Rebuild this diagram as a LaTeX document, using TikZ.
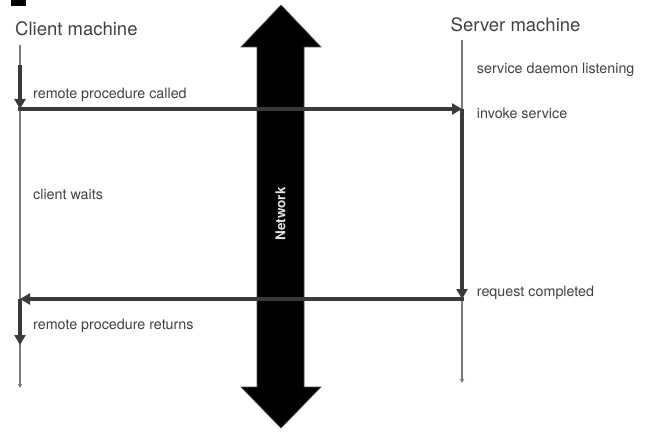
\documentclass[tikz,border=0pt]{standalone}
\usepackage{fontspec}
\setmainfont{TeX Gyre Heros}
\usetikzlibrary{arrows.meta}
\definecolor{txt}{HTML}{404040}
\definecolor{thickc}{HTML}{3A3A3A}
\definecolor{thinc}{HTML}{7A7A7A}
\begin{document}
\begin{tikzpicture}[x=1pt,y=-1pt,
  title/.style={anchor=base west,inner sep=0pt,text=txt,font=\fontsize{18.5}{20}\selectfont},
  lbl/.style={anchor=base west,inner sep=0pt,text=txt,font=\fontsize{14.3}{16}\selectfont},
  thinline/.style={draw=thinc,line width=1.3pt,-{Triangle[length=4pt,width=4pt]}},
  thickline/.style={draw=thickc,line width=4pt,-{Triangle[length=10pt,width=11pt]}}]
\useasboundingbox (0,0) rectangle (655,435);
% black square
\fill[black] (11,0) rectangle (26,6);
% network double arrow
\fill[black,draw=black!70,line width=0.6pt] (281,5) -- (321,47) -- (304,47) -- (304,387) -- (321,387) -- (281,428)
  -- (241,387) -- (257,387) -- (257,47) -- (241,47) -- cycle;
\node[rotate=90,text=white!88!black,font=\bfseries\fontsize{13.5}{15}\selectfont,inner sep=0pt] (network) at (280.5,214) {Network};
% titles
\node[title] (client) at (15,36) {Client machine};
\node[title] (server) at (450.5,31.5) {Server machine};
% coordinates
\coordinate (c0) at (20,45);
\coordinate (c1) at (20,65);
\coordinate (cCall) at (20,109);
\coordinate (cRet) at (20,299);
\coordinate (cRetEnd) at (20,345);
\coordinate (cEnd) at (20,388);
\coordinate (s0) at (462,40);
\coordinate (sCall) at (462,109);
\coordinate (sRet) at (462,299);
\coordinate (sEnd) at (462,383);
% thin timelines
\draw[thinline] (c0) -- (cEnd);
\draw[thinline] (s0) -- (sEnd);
% thick arrows
\draw[thickline] (c1) -- (cCall);
\draw[thickline,shorten <=-2pt] (cCall) -- (sCall);
\draw[thickline] (sCall) -- (sRet);
\draw[thickline,shorten <=-2pt] (sRet) -- (cRet);
\draw[thickline] (cRet) -- (cRetEnd);
% labels
\node[lbl] (l1) at (33,98.3) {remote procedure called};
\node[lbl] (l2) at (476.7,73.3) {service daemon listening};
\node[lbl] (l3) at (476.7,118.3) {invoke service};
\node[lbl] (l4) at (33,200) {client waits};
\node[lbl] (l5) at (476.7,296.7) {request completed};
\node[lbl] (l6) at (33,329.3) {remote procedure returns};
\end{tikzpicture}
\end{document}
